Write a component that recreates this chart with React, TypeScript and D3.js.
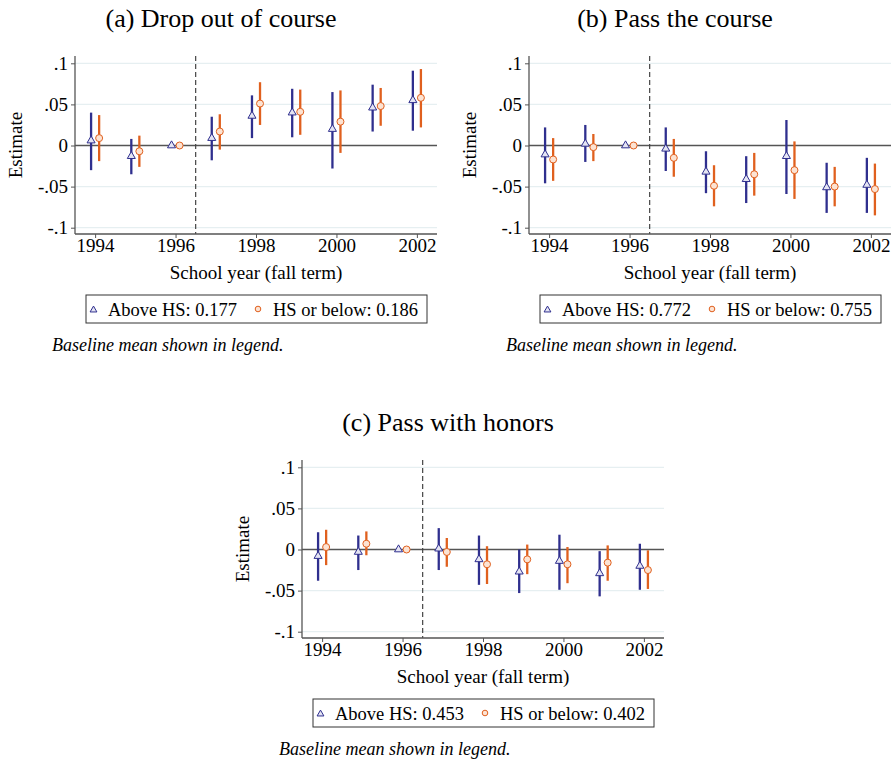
import { useEffect, useRef } from 'react';
import * as d3 from 'd3';

// event-study estimates (1996 is the reference year)
const years = [1994, 1995, 1996, 1997, 1998, 1999, 2000, 2001, 2002];
const yTicks = [-0.1, -0.05, 0, 0.05, 0.1];
const yTickLabels = ['-.1', '-.05', '0', '.05', '.1'];
const xTicks = [1994, 1996, 1998, 2000, 2002];

const dropAboveEst = [0.006, -0.013, 0, 0.009, 0.036, 0.04, 0.02, 0.046, 0.055];
const dropAboveLo = [-0.03, -0.035, 0, -0.018, 0.009, 0.01, -0.028, 0.017, 0.018];
const dropAboveHi = [0.04, 0.008, 0, 0.035, 0.061, 0.069, 0.065, 0.074, 0.091];
const dropBelowEst = [0.009, -0.007, 0, 0.017, 0.051, 0.041, 0.029, 0.048, 0.058];
const dropBelowLo = [-0.019, -0.026, 0, -0.005, 0.025, 0.013, -0.009, 0.024, 0.022];
const dropBelowHi = [0.037, 0.012, 0, 0.038, 0.077, 0.068, 0.067, 0.07, 0.093];

const passAboveEst = [-0.011, 0.002, 0, -0.004, -0.032, -0.041, -0.013, -0.051, -0.048];
const passAboveLo = [-0.046, -0.02, 0, -0.031, -0.058, -0.07, -0.059, -0.082, -0.082];
const passAboveHi = [0.022, 0.025, 0, 0.022, -0.007, -0.013, 0.031, -0.021, -0.015];
const passBelowEst = [-0.017, -0.002, 0, -0.015, -0.049, -0.035, -0.03, -0.05, -0.053];
const passBelowLo = [-0.043, -0.019, 0, -0.038, -0.074, -0.061, -0.065, -0.074, -0.085];
const passBelowHi = [0.009, 0.014, 0, 0.008, -0.024, -0.009, 0.005, -0.026, -0.022];

const honAboveEst = [-0.008, -0.003, 0, 0.001, -0.012, -0.027, -0.014, -0.029, -0.02];
const honAboveLo = [-0.038, -0.025, 0, -0.025, -0.043, -0.053, -0.049, -0.057, -0.049];
const honAboveHi = [0.021, 0.017, 0, 0.026, 0.017, 0, 0.018, -0.002, 0.007];
const honBelowEst = [0.003, 0.007, 0, -0.003, -0.018, -0.012, -0.018, -0.016, -0.025];
const honBelowLo = [-0.019, -0.007, 0, -0.021, -0.042, -0.03, -0.041, -0.038, -0.048];
const honBelowHi = [0.024, 0.022, 0, 0.014, 0.004, 0.006, 0.003, 0.005, -0.001];

const titles = ['(a) Drop out of course', '(b) Pass the course', '(c) Pass with honors'];
const baselineAbove = ['0.177', '0.772', '0.453'];
const baselineBelow = ['0.186', '0.755', '0.402'];

const BLUE = '#2f2f8e';
const ORANGE = '#e0601e';
const FONT = '"Liberation Serif", "Times New Roman", serif';

const panels = [
  { ox: 0, oy: 0, est: [dropAboveEst, dropBelowEst], lo: [dropAboveLo, dropBelowLo], hi: [dropAboveHi, dropBelowHi] },
  { ox: 454, oy: 0, est: [passAboveEst, passBelowEst], lo: [passAboveLo, passBelowLo], hi: [passAboveHi, passBelowHi] },
  { ox: 227, oy: 404, est: [honAboveEst, honBelowEst], lo: [honAboveLo, honBelowLo], hi: [honAboveHi, honBelowHi] },
];

const App = () => {
  const svgRef = useRef(null);

  useEffect(() => {
    const svg = d3.select(svgRef.current);
    svg.selectAll('*').remove();

    const left = 75, right = 437, top = 56, bottom = 234;

    panels.forEach((p, i) => {
      const g = svg.append('g').attr('transform', `translate(${p.ox},${p.oy})`);

      const x = d3.scaleLinear().domain([1993.5, 2002.5]).range([left, right]);
      const y = d3.scaleLinear().domain([-0.1, 0.1]).range([227.7, 63.3]);

      g.append('text')
        .attr('x', 221)
        .attr('y', 27)
        .attr('text-anchor', 'middle')
        .attr('font-family', FONT)
        .attr('font-size', 26)
        .text(titles[i]);

      // gridlines
      g.selectAll('.grid')
        .data(yTicks.filter((d) => d !== 0))
        .enter()
        .append('line')
        .attr('x1', left)
        .attr('x2', right)
        .attr('y1', (d) => y(d))
        .attr('y2', (d) => y(d))
        .attr('stroke', '#e6eff1')
        .attr('stroke-width', 1.2);

      g.append('line')
        .attr('x1', left)
        .attr('x2', right)
        .attr('y1', y(0))
        .attr('y2', y(0))
        .attr('stroke', '#555')
        .attr('stroke-width', 1.3);

      g.append('line')
        .attr('x1', x(1996.5))
        .attr('x2', x(1996.5))
        .attr('y1', top)
        .attr('y2', bottom)
        .attr('stroke', '#444')
        .attr('stroke-width', 1.2)
        .attr('stroke-dasharray', '5,3');

      // axes
      const yAxis = g.append('g').attr('transform', `translate(${left},0)`)
        .call(d3.axisLeft(y).tickValues(yTicks).tickSize(4).tickFormat((d, k) => yTickLabels[k]));
      yAxis.select('.domain').attr('d', `M0,${top}V${bottom}`).attr('stroke', '#555').attr('stroke-width', 1.3);
      yAxis.selectAll('line').attr('stroke', '#555');
      yAxis.selectAll('text').attr('font-family', FONT).attr('font-size', 19).attr('fill', '#000').attr('x', -7);

      const xAxis = g.append('g').attr('transform', `translate(0,${bottom})`)
        .call(d3.axisBottom(x).tickValues(xTicks).tickSize(4).tickFormat(d3.format('d')));
      xAxis.select('.domain').attr('d', `M${left},0H${right}`).attr('stroke', '#555').attr('stroke-width', 1.3);
      xAxis.selectAll('line').attr('stroke', '#555');
      xAxis.selectAll('text').attr('font-family', FONT).attr('font-size', 19).attr('fill', '#000').attr('y', 5);

      g.append('text')
        .attr('transform', `translate(22,${(top + bottom) / 2}) rotate(-90)`)
        .attr('text-anchor', 'middle')
        .attr('font-family', FONT)
        .attr('font-size', 19)
        .text('Estimate');

      g.append('text')
        .attr('x', (left + right) / 2)
        .attr('y', 279)
        .attr('text-anchor', 'middle')
        .attr('font-family', FONT)
        .attr('font-size', 19)
        .text('School year (fall term)');

      // error bars + markers, above HS (blue) offset left, HS or below (orange) right
      [0, 1].forEach((s) => {
        const color = s === 0 ? BLUE : ORANGE;
        const off = s === 0 ? -0.1 : 0.1;
        const rows = years.map((yr, k) => ({ yr, est: p.est[s][k], lo: p.lo[s][k], hi: p.hi[s][k] }));

        g.selectAll(`.bar${s}`)
          .data(rows.filter((d) => d.hi !== d.lo))
          .enter()
          .append('line')
          .attr('x1', (d) => x(d.yr + off))
          .attr('x2', (d) => x(d.yr + off))
          .attr('y1', (d) => y(d.lo))
          .attr('y2', (d) => y(d.hi))
          .attr('stroke', color)
          .attr('stroke-width', 2.3);

        if (s === 0) {
          g.selectAll('.tri')
            .data(rows)
            .enter()
            .append('path')
            .attr('d', d3.symbol(d3.symbolTriangle, 28)())
            .attr('transform', (d) => `translate(${x(d.yr + off)},${y(d.est)})`)
            .attr('fill', '#e4e4f3')
            .attr('stroke', color)
            .attr('stroke-width', 1);
        } else {
          g.selectAll('.dot')
            .data(rows)
            .enter()
            .append('circle')
            .attr('cx', (d) => x(d.yr + off))
            .attr('cy', (d) => y(d.est))
            .attr('r', 3.5)
            .attr('fill', '#fce3d3')
            .attr('stroke', color)
            .attr('stroke-width', 1);
        }
      });

      // legend
      const lg = g.append('g');
      lg.append('rect')
        .attr('x', 86)
        .attr('y', 295)
        .attr('width', 341)
        .attr('height', 28)
        .attr('fill', '#fff')
        .attr('stroke', '#333')
        .attr('stroke-width', 1);
      lg.append('path')
        .attr('d', d3.symbol(d3.symbolTriangle, 20)())
        .attr('transform', 'translate(93.5,310)')
        .attr('fill', '#e4e4f3')
        .attr('stroke', BLUE);
      lg.append('circle')
        .attr('cx', 258)
        .attr('cy', 309)
        .attr('r', 2.8)
        .attr('fill', '#fce3d3')
        .attr('stroke', ORANGE);
      lg.append('text')
        .attr('x', 108)
        .attr('y', 316)
        .attr('font-family', FONT)
        .attr('font-size', 18.5)
        .text(`Above HS: ${baselineAbove[i]}`);
      lg.append('text')
        .attr('x', 273)
        .attr('y', 316)
        .attr('font-family', FONT)
        .attr('font-size', 18.5)
        .text(`HS or below: ${baselineBelow[i]}`);

      g.append('text')
        .attr('x', 52)
        .attr('y', 351)
        .attr('font-family', FONT)
        .attr('font-style', 'italic')
        .attr('font-size', 18)
        .text('Baseline mean shown in legend.');
    });
  }, []);

  return (
    <svg ref={svgRef} width={892} height={761} style={{ position: 'absolute', left: 0, top: 0, background: '#fff' }}></svg>
  );
};

export default App;
